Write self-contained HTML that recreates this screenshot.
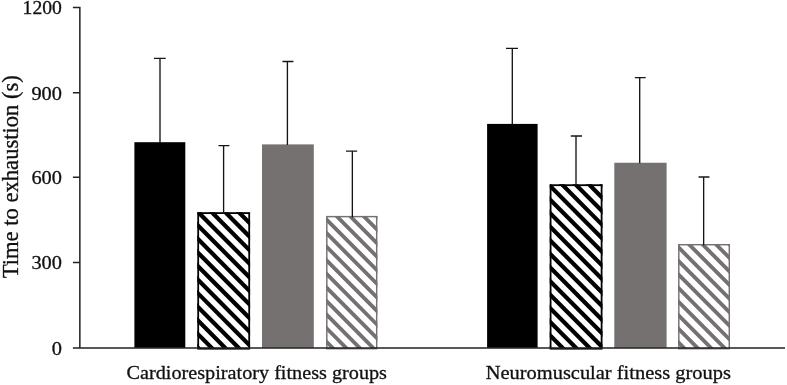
<!DOCTYPE html>
<html><head><meta charset="utf-8"><title>Time to exhaustion</title>
<style>
html,body{margin:0;padding:0;background:#fff;}
svg{display:block;}
text{font-family:"Liberation Serif",serif;fill:#111;stroke:#111;stroke-width:0.3px;}
</style></head><body>
<svg width="787" height="385" viewBox="0 0 787 385">
<defs>
<clipPath id="c1"><rect x="197.3" y="212.2" width="52.80" height="135.70"/></clipPath>
<clipPath id="c3"><rect x="326.1" y="215.9" width="51.30" height="132.00"/></clipPath>
<clipPath id="c5"><rect x="549.7" y="184.3" width="52.80" height="163.60"/></clipPath>
<clipPath id="c7"><rect x="678.1" y="244.0" width="51.90" height="103.90"/></clipPath>
</defs>
<rect width="787" height="385" fill="#fff"/>
<rect x="134.4" y="142.2" width="50.90" height="205.70" fill="#000"/>
<rect x="197.3" y="212.2" width="52.80" height="135.70" fill="#fff"/>
<path clip-path="url(#c1)" d="M195.3,154.88L252.1,212.02M195.3,168.46L252.1,225.60M195.3,182.04L252.1,239.18M195.3,195.62L252.1,252.76M195.3,209.20L252.1,266.34M195.3,222.78L252.1,279.92M195.3,236.36L252.1,293.50M195.3,249.94L252.1,307.08M195.3,263.52L252.1,320.66M195.3,277.10L252.1,334.24M195.3,290.68L252.1,347.82M195.3,304.26L252.1,361.40M195.3,317.84L252.1,374.98M195.3,331.42L252.1,388.56M195.3,345.00L252.1,402.14" stroke="#000" stroke-width="4.2" fill="none"/>
<rect x="198.20" y="213.10" width="51.00" height="135.60" fill="none" stroke="#000" stroke-width="1.8"/>
<rect x="262.0" y="144.4" width="51.80" height="203.50" fill="#767171"/>
<rect x="326.1" y="215.9" width="51.30" height="132.00" fill="#fff"/>
<path clip-path="url(#c3)" d="M324.1,162.77L379.4,218.40M324.1,176.35L379.4,231.98M324.1,189.93L379.4,245.56M324.1,203.51L379.4,259.14M324.1,217.09L379.4,272.72M324.1,230.67L379.4,286.30M324.1,244.25L379.4,299.88M324.1,257.83L379.4,313.46M324.1,271.41L379.4,327.04M324.1,284.99L379.4,340.62M324.1,298.57L379.4,354.20M324.1,312.15L379.4,367.78M324.1,325.73L379.4,381.36M324.1,339.31L379.4,394.94M324.1,352.89L379.4,408.52" stroke="#767171" stroke-width="3.85" fill="none"/>
<rect x="326.83" y="216.62" width="49.85" height="132.07" fill="none" stroke="#767171" stroke-width="1.45"/>
<rect x="487.1" y="123.9" width="50.50" height="224.00" fill="#000"/>
<rect x="549.7" y="184.3" width="52.80" height="163.60" fill="#fff"/>
<path clip-path="url(#c5)" d="M547.7,129.25L604.5,186.39M547.7,142.83L604.5,199.97M547.7,156.41L604.5,213.55M547.7,169.99L604.5,227.13M547.7,183.57L604.5,240.71M547.7,197.15L604.5,254.29M547.7,210.73L604.5,267.87M547.7,224.31L604.5,281.45M547.7,237.89L604.5,295.03M547.7,251.47L604.5,308.61M547.7,265.05L604.5,322.19M547.7,278.63L604.5,335.77M547.7,292.21L604.5,349.35M547.7,305.79L604.5,362.93M547.7,319.37L604.5,376.51M547.7,332.95L604.5,390.09M547.7,346.53L604.5,403.67" stroke="#000" stroke-width="4.2" fill="none"/>
<rect x="550.60" y="185.20" width="51.00" height="163.50" fill="none" stroke="#000" stroke-width="1.8"/>
<rect x="614.3" y="162.75" width="52.30" height="185.15" fill="#767171"/>
<rect x="678.1" y="244.0" width="51.90" height="103.90" fill="#fff"/>
<path clip-path="url(#c7)" d="M676.1,190.61L732.0,246.84M676.1,204.19L732.0,260.42M676.1,217.77L732.0,274.00M676.1,231.35L732.0,287.58M676.1,244.93L732.0,301.16M676.1,258.51L732.0,314.74M676.1,272.09L732.0,328.32M676.1,285.67L732.0,341.90M676.1,299.25L732.0,355.48M676.1,312.83L732.0,369.06M676.1,326.41L732.0,382.64M676.1,339.99L732.0,396.22" stroke="#767171" stroke-width="3.85" fill="none"/>
<rect x="678.83" y="244.72" width="50.45" height="103.97" fill="none" stroke="#767171" stroke-width="1.45"/>
<path d="M160.00,58.30 V142.80 M153.90,58.30 H165.70" stroke="#161616" stroke-width="1.35" fill="none"/>
<path d="M223.60,145.60 V213.80 M218.50,145.60 H229.45" stroke="#161616" stroke-width="1.35" fill="none"/>
<path d="M287.40,61.45 V145.00 M282.45,61.45 H293.45" stroke="#161616" stroke-width="1.35" fill="none"/>
<path d="M352.35,151.10 V217.50 M346.00,151.10 H357.15" stroke="#161616" stroke-width="1.35" fill="none"/>
<path d="M512.30,48.40 V124.50 M506.00,48.40 H518.00" stroke="#161616" stroke-width="1.35" fill="none"/>
<path d="M576.00,136.00 V185.90 M570.80,136.00 H582.00" stroke="#161616" stroke-width="1.35" fill="none"/>
<path d="M639.70,77.60 V163.35 M634.80,77.60 H645.70" stroke="#161616" stroke-width="1.35" fill="none"/>
<path d="M703.65,177.00 V245.60 M698.55,177.00 H709.45" stroke="#161616" stroke-width="1.35" fill="none"/>
<path d="M79.85,6.7 V347.9 M72.9,347.9 H785 M72.9,7.40 H79.85 M72.9,92.80 H79.85 M72.9,177.20 H79.85 M72.9,262.40 H79.85" stroke="#222" stroke-width="1.5" fill="none"/>
<text x="22.60" y="14.40" font-size="18.6" stroke="none" fill="#1c1c1c" textLength="39.3" lengthAdjust="spacingAndGlyphs">1200</text>
<text x="31.45" y="99.80" font-size="18.6" stroke="none" fill="#1c1c1c" textLength="30.5" lengthAdjust="spacingAndGlyphs">900</text>
<text x="31.45" y="184.20" font-size="18.6" stroke="none" fill="#1c1c1c" textLength="30.5" lengthAdjust="spacingAndGlyphs">600</text>
<text x="31.45" y="269.40" font-size="18.6" stroke="none" fill="#1c1c1c" textLength="30.5" lengthAdjust="spacingAndGlyphs">300</text>
<text x="51.75" y="354.90" font-size="18.6" stroke="none" fill="#1c1c1c" textLength="10.2" lengthAdjust="spacingAndGlyphs">0</text>
<text transform="translate(17.5,278.3) rotate(-90) scale(1,1.07)" font-size="22.3" stroke="none" fill="#161616" textLength="203.2" lengthAdjust="spacingAndGlyphs">Time to exhaustion (s)</text>
<text x="126.5" y="378.7" font-size="19.6" textLength="260.5" lengthAdjust="spacingAndGlyphs">Cardiorespiratory fitness groups</text>
<text x="485.7" y="378.7" font-size="19.6" textLength="245.2" lengthAdjust="spacingAndGlyphs">Neuromuscular fitness groups</text>
</svg>
</body></html>
